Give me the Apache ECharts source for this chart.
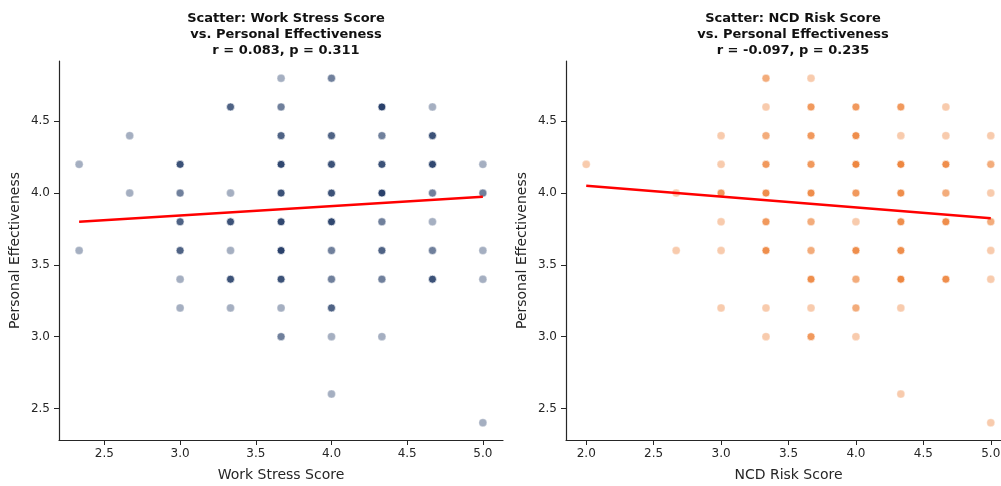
<!DOCTYPE html>
<html>
<head>
<meta charset="utf-8">
<script src="https://cdn.jsdelivr.net/npm/echarts@6/dist/echarts.min.js"></script>
<style>
  html, body { margin: 0; padding: 0; background: #fff; }
  #chart { width: 1001px; height: 486px; }
</style>
</head>
<body>
<div id="chart"></div>
<script>
// Work Stress Score vs Personal Effectiveness (unique points + how many respondents share each)
const stressX = [
  2.333, 2.333,
  2.667, 2.667,
  3.0, 3.0, 3.0, 3.0, 3.0, 3.0,
  3.333, 3.333, 3.333, 3.333, 3.333, 3.333,
  3.667, 3.667, 3.667, 3.667, 3.667, 3.667, 3.667, 3.667, 3.667, 3.667,
  4.0, 4.0, 4.0, 4.0, 4.0, 4.0, 4.0, 4.0, 4.0, 4.0,
  4.333, 4.333, 4.333, 4.333, 4.333, 4.333, 4.333, 4.333,
  4.667, 4.667, 4.667, 4.667, 4.667, 4.667, 4.667,
  5.0, 5.0, 5.0, 5.0, 5.0
];
const stressY = [
  4.2, 3.6,
  4.4, 4.0,
  4.2, 4.0, 3.8, 3.6, 3.4, 3.2,
  4.6, 4.0, 3.8, 3.6, 3.4, 3.2,
  4.8, 4.6, 4.4, 4.2, 4.0, 3.8, 3.6, 3.4, 3.2, 3.0,
  4.8, 4.4, 4.2, 4.0, 3.8, 3.6, 3.4, 3.2, 3.0, 2.6,
  4.6, 4.4, 4.2, 4.0, 3.8, 3.6, 3.4, 3.0,
  4.6, 4.4, 4.2, 4.0, 3.8, 3.6, 3.4,
  4.2, 4.0, 3.6, 3.4, 2.4
];
const stressN = [
  1, 1,
  1, 1,
  4, 2, 3, 3, 1, 1,
  3, 1, 4, 1, 4, 1,
  1, 2, 3, 5, 4, 5, 6, 4, 1, 2,
  2, 3, 4, 4, 5, 2, 2, 3, 1, 1,
  6, 2, 4, 6, 2, 3, 2, 1,
  1, 4, 5, 2, 1, 2, 4,
  1, 2, 1, 1, 1
];
const stressFitX = [2.333, 5.0];
const stressFitY = [3.80, 3.974];

// NCD Risk Score vs Personal Effectiveness
const ncdX = [
  2.0,
  2.667, 2.667,
  3.0, 3.0, 3.0, 3.0, 3.0, 3.0,
  3.333, 3.333, 3.333, 3.333, 3.333, 3.333, 3.333, 3.333, 3.333,
  3.667, 3.667, 3.667, 3.667, 3.667, 3.667, 3.667, 3.667, 3.667, 3.667,
  4.0, 4.0, 4.0, 4.0, 4.0, 4.0, 4.0, 4.0, 4.0,
  4.333, 4.333, 4.333, 4.333, 4.333, 4.333, 4.333, 4.333, 4.333,
  4.667, 4.667, 4.667, 4.667, 4.667, 4.667,
  5.0, 5.0, 5.0, 5.0, 5.0, 5.0, 5.0
];
const ncdY = [
  4.2,
  4.0, 3.6,
  4.4, 4.2, 4.0, 3.8, 3.6, 3.2,
  4.8, 4.6, 4.4, 4.2, 4.0, 3.8, 3.6, 3.2, 3.0,
  4.8, 4.6, 4.4, 4.2, 4.0, 3.8, 3.6, 3.4, 3.2, 3.0,
  4.6, 4.4, 4.2, 4.0, 3.8, 3.6, 3.4, 3.2, 3.0,
  4.6, 4.4, 4.2, 4.0, 3.8, 3.6, 3.4, 3.2, 2.6,
  4.6, 4.4, 4.2, 4.0, 3.8, 3.4,
  4.4, 4.2, 4.0, 3.8, 3.6, 3.4, 2.4
];
const ncdN = [
  1,
  1, 1,
  1, 1, 3, 1, 1, 1,
  2, 1, 2, 3, 4, 3, 4, 1, 1,
  1, 3, 3, 3, 4, 2, 2, 4, 1, 3,
  3, 4, 5, 3, 1, 4, 2, 2, 1,
  3, 1, 5, 4, 4, 4, 5, 1, 1,
  1, 1, 4, 2, 4, 4,
  1, 2, 1, 2, 1, 1, 1
];
const ncdFitX = [2.0, 5.0];
const ncdFitY = [4.051, 3.825];

const yTicks = [2.5, 3.0, 3.5, 4.0, 4.5];
const stressTicks = [2.5, 3.0, 3.5, 4.0, 4.5, 5.0];
const ncdTicks = [2.0, 2.5, 3.0, 3.5, 4.0, 4.5, 5.0];

const titles = [
  'Scatter: Work Stress Score\nvs. Personal Effectiveness\nr = 0.083, p = 0.311',
  'Scatter: NCD Risk Score\nvs. Personal Effectiveness\nr = -0.097, p = 0.235'
];
const xNames = ['Work Stress Score', 'NCD Risk Score'];
const yName = 'Personal Effectiveness';

const FONT = 'DejaVu Sans';
const INK = '#262626';
const POINT_ALPHA = 0.4;

// stacked semi-transparent markers: n overlapping points -> 1 - (1 - a)^n
function points(xs, ys, ns, color) {
  return xs.map((x, i) => ({
    value: [x, ys[i]],
    itemStyle: {
      color: color,
      opacity: 1 - Math.pow(1 - POINT_ALPHA, ns[i]),
      borderColor: '#ffffff',
      borderWidth: 0.8
    }
  }));
}

function xAxis(idx, min, max, ticks) {
  return {
    type: 'value', gridIndex: idx, min: min, max: max,
    name: xNames[idx], nameLocation: 'middle', nameGap: 28,
    nameTextStyle: { fontFamily: FONT, fontSize: 14, color: INK },
    axisLine: { show: true, onZero: false, lineStyle: { color: INK, width: 1.2 } },
    axisTick: { show: true, length: 5, customValues: ticks, lineStyle: { color: INK, width: 1 } },
    axisLabel: { customValues: ticks, margin: 8, fontFamily: FONT, fontSize: 12, color: INK,
                 formatter: v => v.toFixed(1) },
    splitLine: { show: false }
  };
}

function yAxis(idx) {
  return {
    type: 'value', gridIndex: idx, min: 2.28, max: 4.92,
    name: yName, nameLocation: 'middle', nameGap: 37, nameRotate: 90,
    nameTextStyle: { fontFamily: FONT, fontSize: 14, color: INK },
    axisLine: { show: true, onZero: false, lineStyle: { color: INK, width: 1.2 } },
    axisTick: { show: true, length: 5, customValues: yTicks, lineStyle: { color: INK, width: 1 } },
    axisLabel: { customValues: yTicks, margin: 9, fontFamily: FONT, fontSize: 12, color: INK,
                 formatter: v => v.toFixed(1) },
    splitLine: { show: false }
  };
}

const chart = echarts.init(document.getElementById('chart'), null, { renderer: 'canvas' });

chart.setOption({
  backgroundColor: '#ffffff',
  animation: false,
  title: [
    { text: titles[0], left: 281, top: 6, textAlign: 'center',
      textStyle: { fontFamily: FONT, fontSize: 13, fontWeight: 'bold', color: '#111', lineHeight: 16 } },
    { text: titles[1], left: 788, top: 6, textAlign: 'center',
      textStyle: { fontFamily: FONT, fontSize: 13, fontWeight: 'bold', color: '#111', lineHeight: 16 } }
  ],
  grid: [
    { left: 59, top: 61, width: 444, height: 379, containLabel: false, outerBoundsMode: 'none' },
    { left: 566, top: 61, width: 445, height: 379, containLabel: false, outerBoundsMode: 'none' }
  ],
  xAxis: [
    xAxis(0, 2.2, 5.133, stressTicks),
    xAxis(1, 1.85, 5.15, ncdTicks)
  ],
  yAxis: [yAxis(0), yAxis(1)],
  series: [
    { type: 'scatter', xAxisIndex: 0, yAxisIndex: 0, symbolSize: 8, z: 2,
      data: points(stressX, stressY, stressN, '#1f3864') },
    { type: 'line', xAxisIndex: 0, yAxisIndex: 0, symbol: 'none', z: 3,
      lineStyle: { color: '#ff0000', width: 2.5 },
      data: stressFitX.map((x, i) => [x, stressFitY[i]]) },
    { type: 'scatter', xAxisIndex: 1, yAxisIndex: 1, symbolSize: 8, z: 2,
      data: points(ncdX, ncdY, ncdN, '#ed7d31') },
    { type: 'line', xAxisIndex: 1, yAxisIndex: 1, symbol: 'none', z: 3,
      lineStyle: { color: '#ff0000', width: 2.5 },
      data: ncdFitX.map((x, i) => [x, ncdFitY[i]]) }
  ]
});
</script>
</body>
</html>
